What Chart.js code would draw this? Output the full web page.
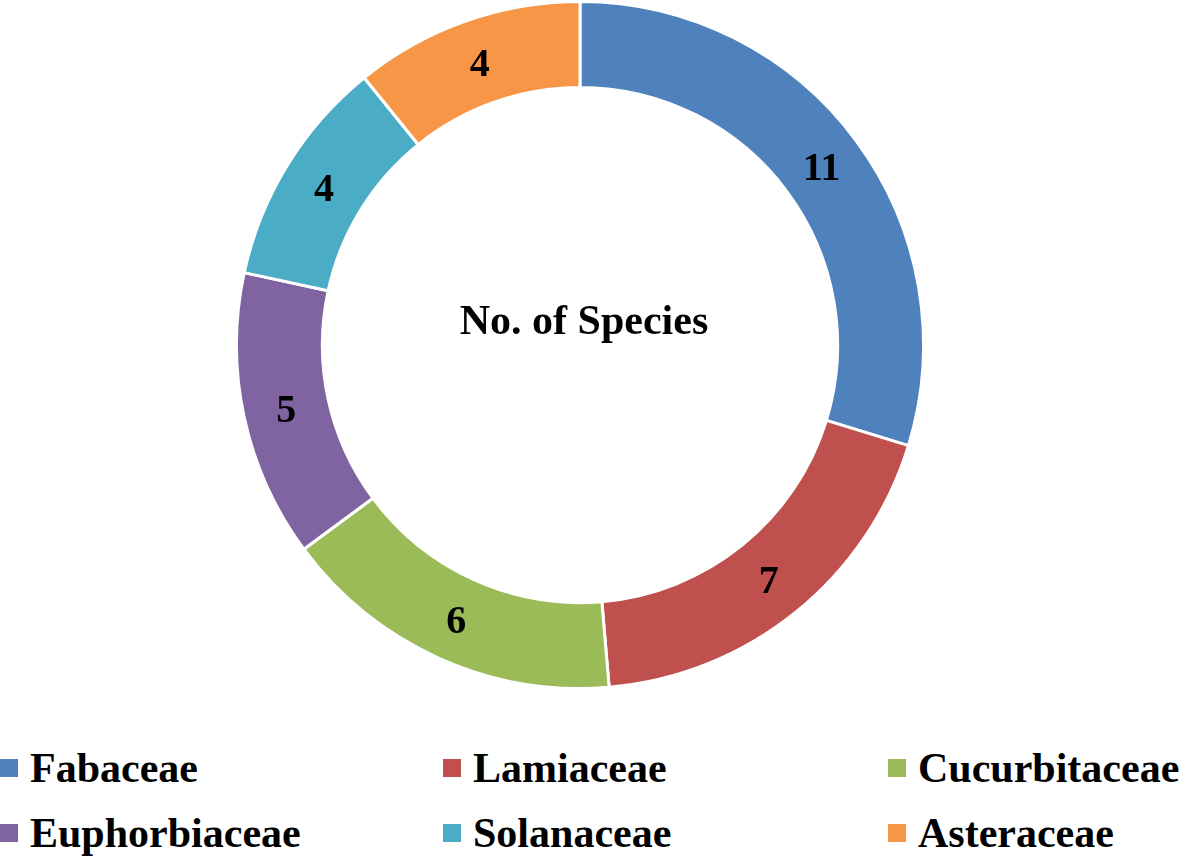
<!DOCTYPE html>
<html>
<head>
<meta charset="utf-8">
<script src="https://cdn.jsdelivr.net/npm/chart.js@4.4.1/dist/chart.umd.min.js"></script>
<style>
  html, body { margin: 0; padding: 0; background: #fff; }
  body { width: 1179px; height: 858px; position: relative; overflow: hidden; }
  #chartBox { position: absolute; left: 0; top: 0; width: 1160px; height: 690px; }
  #legend { position: absolute; left: 0; top: 740px; width: 1179px;
    font-family: "Liberation Serif", "Times New Roman", serif; font-weight: bold; font-size: 42px; color: #000; }
  .item { position: absolute; display: flex; align-items: center; white-space: nowrap; height: 56px; }
  .box { width: 18px; height: 18px; margin-right: 12px; }
</style>
</head>
<body>
<div id="chartBox"><canvas id="speciesChart"></canvas></div>
<div id="legend"></div>
<script>
// ---- data ----
const families = ["Fabaceae", "Lamiaceae", "Cucurbitaceae", "Euphorbiaceae", "Solanaceae", "Asteraceae"];
const speciesCount = [11, 7, 6, 5, 4, 4];
const sliceColors = ["#4F81BD", "#C0504D", "#9BBB59", "#8064A2", "#4BACC6", "#F79646"];
const centerTitle = "No. of Species";

const serif = '"Liberation Serif", "Times New Roman", serif';

// Draws the value on each slice + the title in the hole
const labelsPlugin = {
  id: "sliceLabels",
  afterDatasetsDraw(chart) {
    const { ctx } = chart;
    const meta = chart.getDatasetMeta(0);
    ctx.save();
    ctx.fillStyle = "#000";
    ctx.textAlign = "center";
    ctx.textBaseline = "alphabetic";
    ctx.font = "bold 40px " + serif;
    meta.data.forEach((arc, i) => {
      const pos = arc.tooltipPosition();
      ctx.fillText(String(speciesCount[i]), pos.x, pos.y + 14);
    });
    const c = meta.data[0];
    ctx.font = "bold 42px " + serif;
    ctx.fillText(centerTitle, c.x + 4, c.y - 11);
    ctx.restore();
  }
};

const ctx = document.getElementById("speciesChart");

new Chart(ctx, {
  type: "doughnut",
  data: {
    labels: families,
    datasets: [{
      data: speciesCount,
      backgroundColor: sliceColors,
      borderColor: "#fff",
      borderWidth: 3,
      hoverOffset: 0
    }]
  },
  options: {
    responsive: true,
    maintainAspectRatio: false,
    animation: false,
    cutout: "75%",
    plugins: {
      legend: { display: false },
      tooltip: { enabled: false }
    }
  },
  plugins: [labelsPlugin]
});

// ---- legend (2 rows x 3 cols) ----
const legend = document.getElementById("legend");
const colX = [0, 443, 888];
const rowY = [0, 65];
families.forEach((name, i) => {
  const item = document.createElement("div");
  item.className = "item";
  item.style.left = colX[i % 3] + "px";
  item.style.top = rowY[Math.floor(i / 3)] + "px";
  item.innerHTML = `<span class="box" style="background:${sliceColors[i]}"></span><span>${name}</span>`;
  legend.appendChild(item);
});
</script>
</body>
</html>
